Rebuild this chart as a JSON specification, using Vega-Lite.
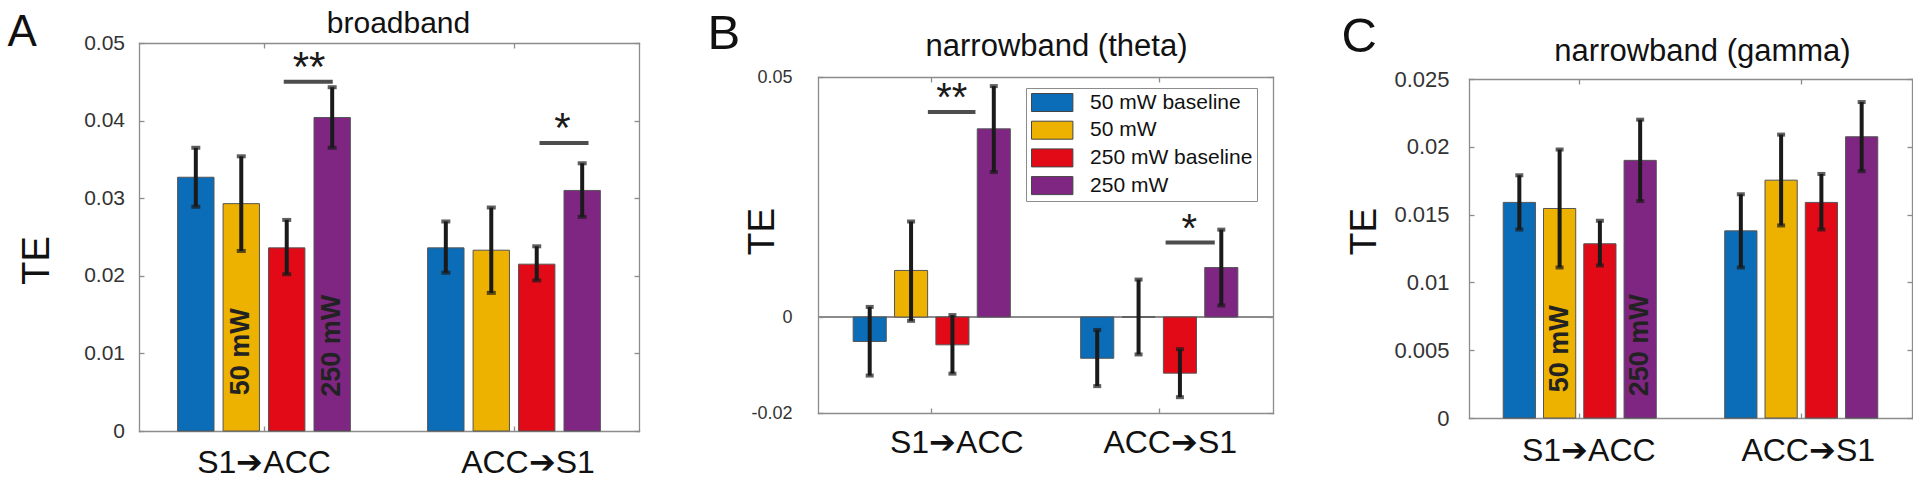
{
  "$schema": "https://vega.github.io/schema/vega-lite/v6.json",
  "background": "white",
  "padding": {"left": 7, "top": 8, "right": 0, "bottom": 0},
  "spacing": 67,
  "resolve": {"scale": {"color": "independent", "xOffset": "independent", "x": "independent", "y": "independent"}, "legend": {"color": "independent"}},
  "config": {
    "font": "Liberation Sans",
    "view": {"stroke": null},
    "axis": {"domain": true, "domainColor": "#8c8c8c", "domainWidth": 1.3, "domainCap": "square", "grid": false, "ticks": true, "tickSize": -5, "tickColor": "#8c8c8c", "tickWidth": 1.3, "labelFont": "Liberation Sans", "titleFont": "Liberation Sans", "titleFontWeight": "normal", "labelColor": "#333333", "titleColor": "#111111", "labelFlush": false, "labelOverlap": false},
    "text": {"font": "Liberation Sans"}
  },
  "datasets": {
    "A": [
      {"dir": "S1➔ACC", "cond": "50 mW baseline", "te": 0.0327, "lo": 0.0289, "hi": 0.0365},
      {"dir": "S1➔ACC", "cond": "50 mW", "te": 0.0293, "lo": 0.0232, "hi": 0.0354},
      {"dir": "S1➔ACC", "cond": "250 mW baseline", "te": 0.0236, "lo": 0.0202, "hi": 0.0272},
      {"dir": "S1➔ACC", "cond": "250 mW", "te": 0.0404, "lo": 0.0365, "hi": 0.0443},
      {"dir": "ACC➔S1", "cond": "50 mW baseline", "te": 0.0236, "lo": 0.0204, "hi": 0.0270},
      {"dir": "ACC➔S1", "cond": "50 mW", "te": 0.0233, "lo": 0.0178, "hi": 0.0288},
      {"dir": "ACC➔S1", "cond": "250 mW baseline", "te": 0.0215, "lo": 0.0194, "hi": 0.0238},
      {"dir": "ACC➔S1", "cond": "250 mW", "te": 0.0310, "lo": 0.0276, "hi": 0.0345}
    ],
    "A_sig": [
      {"dir": "S1➔ACC", "stars": "**", "y": 0.0450},
      {"dir": "ACC➔S1", "stars": "*", "y": 0.0371}
    ],
    "A_lab": [
      {"dir": "S1➔ACC", "cond": "50 mW", "label": "50 mW", "y": 0.0046},
      {"dir": "S1➔ACC", "cond": "250 mW", "label": "250 mW", "y": 0.0044}
    ],
    "B": [
      {"dir": "S1➔ACC", "cond": "50 mW baseline", "te": -0.0051, "lo": -0.0122, "hi": 0.0021},
      {"dir": "S1➔ACC", "cond": "50 mW", "te": 0.0097, "lo": -0.0008, "hi": 0.0199},
      {"dir": "S1➔ACC", "cond": "250 mW baseline", "te": -0.0058, "lo": -0.0118, "hi": 0.0004},
      {"dir": "S1➔ACC", "cond": "250 mW", "te": 0.0392, "lo": 0.0302, "hi": 0.0481},
      {"dir": "ACC➔S1", "cond": "50 mW baseline", "te": -0.0086, "lo": -0.0144, "hi": -0.0027},
      {"dir": "ACC➔S1", "cond": "50 mW", "te": 0.0, "lo": -0.0078, "hi": 0.0078},
      {"dir": "ACC➔S1", "cond": "250 mW baseline", "te": -0.0117, "lo": -0.0167, "hi": -0.0067},
      {"dir": "ACC➔S1", "cond": "250 mW", "te": 0.0103, "lo": 0.0024, "hi": 0.0182}
    ],
    "B_sig": [
      {"dir": "S1➔ACC", "stars": "**", "y": 0.0427},
      {"dir": "ACC➔S1", "stars": "*", "y": 0.0155}
    ],
    "C": [
      {"dir": "S1➔ACC", "cond": "50 mW baseline", "te": 0.0159, "lo": 0.0139, "hi": 0.0179},
      {"dir": "S1➔ACC", "cond": "50 mW", "te": 0.01545, "lo": 0.0111, "hi": 0.0198},
      {"dir": "S1➔ACC", "cond": "250 mW baseline", "te": 0.01285, "lo": 0.01125, "hi": 0.01454},
      {"dir": "S1➔ACC", "cond": "250 mW", "te": 0.0190, "lo": 0.0160, "hi": 0.0220},
      {"dir": "ACC➔S1", "cond": "50 mW baseline", "te": 0.0138, "lo": 0.0111, "hi": 0.0165},
      {"dir": "ACC➔S1", "cond": "50 mW", "te": 0.01754, "lo": 0.0142, "hi": 0.0209},
      {"dir": "ACC➔S1", "cond": "250 mW baseline", "te": 0.0159, "lo": 0.0139, "hi": 0.0180},
      {"dir": "ACC➔S1", "cond": "250 mW", "te": 0.02074, "lo": 0.0182, "hi": 0.0233}
    ],
    "C_lab": [
      {"dir": "S1➔ACC", "cond": "50 mW", "label": "50 mW", "y": 0.0019},
      {"dir": "S1➔ACC", "cond": "250 mW", "label": "250 mW", "y": 0.0016}
    ]
  },
  "hconcat": [
    {
      "width": 500, "height": 388,
      "data": {"name": "A"},
      "resolve": {"axis": {"x": "independent", "y": "independent"}},
      "layer": [
        {
          "mark": {"type": "bar", "stroke": "#555555", "strokeWidth": 1},
          "encoding": {
            "x": {"field": "dir", "type": "nominal", "scale": {"domain": ["S1➔ACC", "ACC➔S1"], "paddingInner": 0, "paddingOuter": 0},
                  "axis": {"orient": "bottom", "title": null, "labelAngle": 0, "labelFontSize": 32, "labelColor": "#111111", "labelPadding": 21.6, "bandPosition": 0.5,
                           "labelOffset": {"condition": {"test": "datum.value == 'ACC➔S1'", "value": 14}, "value": 0}}},
            "xOffset": {"field": "cond", "type": "nominal", "scale": {"domain": ["50 mW baseline", "50 mW", "250 mW baseline", "250 mW"], "paddingInner": 0.2, "paddingOuter": 0.85}},
            "y": {"field": "te", "type": "quantitative", "scale": {"domain": [0, 0.05], "nice": false, "zero": false},
                  "axis": {"orient": "left", "values": [0, 0.01, 0.02, 0.03, 0.04, 0.05], "format": "~g", "labelFontSize": 21, "labelPadding": 19.5, "title": "TE", "titleFontSize": 38, "titleAngle": 270, "titleX": -102, "titleY": 217, "titleAlign": "center", "titleBaseline": "middle"}},
            "color": {"field": "cond", "type": "nominal", "scale": {"domain": ["50 mW baseline", "50 mW", "250 mW baseline", "250 mW"], "range": ["#0b6cb8", "#edb100", "#e20a17", "#7f2682"]}, "legend": null}
          }
        },
        {
          "mark": {"type": "rule", "color": "#1a1a1a", "strokeWidth": 4},
          "encoding": {
            "x": {"field": "dir", "type": "nominal", "axis": {"orient": "top", "labels": false, "bandPosition": 0.5, "title": "broadband", "titleFontSize": 30, "titleX": 259, "titleY": -11, "titleAlign": "center", "titleBaseline": "alphabetic"}},
            "xOffset": {"field": "cond", "type": "nominal"},
            "y": {"field": "lo", "type": "quantitative", "axis": {"orient": "right", "labels": false, "values": [0, 0.01, 0.02, 0.03, 0.04, 0.05], "title": "A", "titleFontSize": 44, "titleAngle": 0, "titleX": -632, "titleY": 2, "titleAlign": "left", "titleBaseline": "alphabetic"}},
            "y2": {"field": "hi"}
          }
        },
        {
          "mark": {"type": "tick", "orient": "horizontal", "color": "#1a1a1a", "size": 9, "thickness": 4},
          "encoding": {
            "x": {"field": "dir", "type": "nominal", "axis": null},
            "xOffset": {"field": "cond", "type": "nominal"},
            "y": {"field": "lo", "type": "quantitative", "axis": null}
          }
        },
        {
          "mark": {"type": "tick", "orient": "horizontal", "color": "#1a1a1a", "size": 9, "thickness": 4},
          "encoding": {
            "x": {"field": "dir", "type": "nominal", "axis": null},
            "xOffset": {"field": "cond", "type": "nominal"},
            "y": {"field": "hi", "type": "quantitative", "axis": null}
          }
        },
        {
          "data": {"name": "A_sig"},
          "transform": [{"filter": "datum.dir == 'S1➔ACC'"}],
          "mark": {"type": "rule", "color": "#4d4d4d", "strokeWidth": 4},
          "encoding": {
            "x": {"field": "dir", "type": "nominal", "bandPosition": 0.579, "axis": null},
            "x2": {"field": "dir", "bandPosition": 0.775},
            "y": {"field": "y", "type": "quantitative", "axis": null}
          }
        },
        {
          "data": {"name": "A_sig"},
          "transform": [{"filter": "datum.dir == 'ACC➔S1'"}],
          "mark": {"type": "rule", "color": "#4d4d4d", "strokeWidth": 4},
          "encoding": {
            "x": {"field": "dir", "type": "nominal", "bandPosition": 0.602, "axis": null},
            "x2": {"field": "dir", "bandPosition": 0.798},
            "y": {"field": "y", "type": "quantitative", "axis": null}
          }
        },
        {
          "data": {"name": "A_sig"},
          "transform": [{"filter": "datum.dir == 'S1➔ACC'"}],
          "mark": {"type": "text", "fontSize": 42, "baseline": "alphabetic", "align": "center", "color": "#1a1a1a", "dy": -1},
          "encoding": {
            "x": {"field": "dir", "type": "nominal", "bandPosition": 0.68, "axis": null},
            "y": {"field": "y", "type": "quantitative", "axis": null},
            "text": {"field": "stars"}
          }
        },
        {
          "data": {"name": "A_sig"},
          "transform": [{"filter": "datum.dir == 'ACC➔S1'"}],
          "mark": {"type": "text", "fontSize": 42, "baseline": "alphabetic", "align": "center", "color": "#1a1a1a", "dy": -1},
          "encoding": {
            "x": {"field": "dir", "type": "nominal", "bandPosition": 0.694, "axis": null},
            "y": {"field": "y", "type": "quantitative", "axis": null},
            "text": {"field": "stars"}
          }
        },
        {
          "data": {"name": "A_lab"},
          "mark": {"type": "text", "angle": 270, "align": "left", "baseline": "middle", "fontSize": 27, "fontWeight": "bold", "color": "#222222"},
          "encoding": {
            "x": {"field": "dir", "type": "nominal", "axis": null},
            "xOffset": {"field": "cond", "type": "nominal"},
            "y": {"field": "y", "type": "quantitative", "axis": null},
            "text": {"field": "label"}
          }
        }
      ]
    },
    {
      "width": 455, "height": 388,
      "data": {"name": "B"},
      "resolve": {"axis": {"x": "independent", "y": "independent"}},
      "layer": [
        {
          "mark": {"type": "rule", "color": "#8c8c8c", "strokeWidth": 1.3},
          "encoding": {"y": {"datum": 0, "type": "quantitative", "axis": null}}
        },
        {
          "mark": {"type": "bar", "stroke": "#555555", "strokeWidth": 1},
          "encoding": {
            "x": {"field": "dir", "type": "nominal", "scale": {"domain": ["S1➔ACC", "ACC➔S1"], "paddingInner": 0, "paddingOuter": 0},
                  "axis": {"orient": "bottom", "offset": -18, "title": null, "labelAngle": 0, "labelFontSize": 32, "labelColor": "#111111", "labelPadding": 19.6, "bandPosition": 0.5,
                           "labelOffset": {"condition": {"test": "datum.value == 'ACC➔S1'", "value": 11}, "value": 25}}},
            "xOffset": {"field": "cond", "type": "nominal", "scale": {"domain": ["50 mW baseline", "50 mW", "250 mW baseline", "250 mW"], "paddingInner": 0.2, "paddingOuter": 0.85}},
            "y": {"field": "te", "type": "quantitative", "scale": {"domain": [-0.02, 0.05], "range": [370, 34], "nice": false, "zero": false},
                  "axis": {"orient": "left", "values": [-0.02, 0, 0.05], "format": "~g", "labelExpr": "replace(datum.label, '−', '-')", "labelFontSize": 18, "labelPadding": 31, "title": "TE", "titleFontSize": 37, "titleAngle": 270, "titleX": -56, "titleY": 188, "titleAlign": "center", "titleBaseline": "middle"}},
            "color": {"field": "cond", "type": "nominal", "scale": {"domain": ["50 mW baseline", "50 mW", "250 mW baseline", "250 mW"], "range": ["#0b6cb8", "#edb100", "#e20a17", "#7f2682"]},
                      "legend": {"orient": "none", "legendX": 208, "legendY": 45, "title": null, "symbolType": "M-2.3,-1H2.3V1H-2.3Z", "symbolSize": 324, "symbolOffset": 11.7, "labelOffset": 27.4, "labelFontSize": 21, "labelFont": "Liberation Sans", "labelColor": "#111111", "labelLimit": 400, "rowPadding": 4.7, "padding": 4, "strokeColor": "#8c8c8c", "fillColor": "white", "symbolStrokeColor": "#444444", "symbolStrokeWidth": 1, "symbolOpacity": 1, "labelExpr": "datum.label + '\u00a0\u00a0\u00a0'"}}
          }
        },
        {
          "mark": {"type": "rule", "color": "#1a1a1a", "strokeWidth": 4},
          "encoding": {
            "x": {"field": "dir", "type": "nominal", "axis": {"orient": "top", "offset": -34, "labels": false, "bandPosition": 0.5, "title": "narrowband (theta)", "titleFontSize": 31, "titleX": 238, "titleY": -22, "titleAlign": "center", "titleBaseline": "alphabetic"}},
            "xOffset": {"field": "cond", "type": "nominal"},
            "y": {"field": "lo", "type": "quantitative", "axis": {"orient": "right", "labels": false, "values": [-0.02, 0, 0.05], "title": "B", "titleFontSize": 49, "titleAngle": 0, "titleX": -566, "titleY": 5, "titleAlign": "left", "titleBaseline": "alphabetic"}},
            "y2": {"field": "hi"}
          }
        },
        {
          "mark": {"type": "tick", "orient": "horizontal", "color": "#1a1a1a", "size": 8, "thickness": 4},
          "encoding": {
            "x": {"field": "dir", "type": "nominal", "axis": null},
            "xOffset": {"field": "cond", "type": "nominal"},
            "y": {"field": "lo", "type": "quantitative", "axis": null}
          }
        },
        {
          "mark": {"type": "tick", "orient": "horizontal", "color": "#1a1a1a", "size": 8, "thickness": 4},
          "encoding": {
            "x": {"field": "dir", "type": "nominal", "axis": null},
            "xOffset": {"field": "cond", "type": "nominal"},
            "y": {"field": "hi", "type": "quantitative", "axis": null}
          }
        },
        {
          "data": {"name": "B_sig"},
          "transform": [{"filter": "datum.dir == 'S1➔ACC'"}],
          "mark": {"type": "rule", "color": "#4d4d4d", "strokeWidth": 4},
          "encoding": {
            "x": {"field": "dir", "type": "nominal", "bandPosition": 0.483, "axis": null},
            "x2": {"field": "dir", "bandPosition": 0.692},
            "y": {"field": "y", "type": "quantitative", "axis": null}
          }
        },
        {
          "data": {"name": "B_sig"},
          "transform": [{"filter": "datum.dir == 'ACC➔S1'"}],
          "mark": {"type": "rule", "color": "#4d4d4d", "strokeWidth": 4},
          "encoding": {
            "x": {"field": "dir", "type": "nominal", "bandPosition": 0.528, "axis": null},
            "x2": {"field": "dir", "bandPosition": 0.744},
            "y": {"field": "y", "type": "quantitative", "axis": null}
          }
        },
        {
          "data": {"name": "B_sig"},
          "transform": [{"filter": "datum.dir == 'S1➔ACC'"}],
          "mark": {"type": "text", "fontSize": 40, "baseline": "alphabetic", "align": "center", "color": "#1a1a1a", "dy": -1},
          "encoding": {
            "x": {"field": "dir", "type": "nominal", "bandPosition": 0.588, "axis": null},
            "y": {"field": "y", "type": "quantitative", "axis": null},
            "text": {"field": "stars"}
          }
        },
        {
          "data": {"name": "B_sig"},
          "transform": [{"filter": "datum.dir == 'ACC➔S1'"}],
          "mark": {"type": "text", "fontSize": 40, "baseline": "alphabetic", "align": "center", "color": "#1a1a1a", "dy": -1},
          "encoding": {
            "x": {"field": "dir", "type": "nominal", "bandPosition": 0.632, "axis": null},
            "y": {"field": "y", "type": "quantitative", "axis": null},
            "text": {"field": "stars"}
          }
        }
      ]
    },
    {
      "width": 443, "height": 388,
      "data": {"name": "C"},
      "resolve": {"axis": {"x": "independent", "y": "independent"}},
      "layer": [
        {
          "mark": {"type": "bar", "stroke": "#555555", "strokeWidth": 1},
          "encoding": {
            "x": {"field": "dir", "type": "nominal", "scale": {"domain": ["S1➔ACC", "ACC➔S1"], "paddingInner": 0, "paddingOuter": 0},
                  "axis": {"orient": "bottom", "offset": -13, "title": null, "labelAngle": 0, "labelFontSize": 32, "labelColor": "#111111", "labelPadding": 22.6, "bandPosition": 0.5,
                           "labelOffset": {"condition": {"test": "datum.value == 'ACC➔S1'", "value": 7}, "value": 9}}},
            "xOffset": {"field": "cond", "type": "nominal", "scale": {"domain": ["50 mW baseline", "50 mW", "250 mW baseline", "250 mW"], "paddingInner": 0.2, "paddingOuter": 0.85}},
            "y": {"field": "te", "type": "quantitative", "scale": {"domain": [0, 0.025], "range": [375, 36], "nice": false, "zero": false},
                  "axis": {"orient": "left", "values": [0, 0.005, 0.01, 0.015, 0.02, 0.025], "format": "~g", "labelFontSize": 22, "labelPadding": 25, "title": "TE", "titleFontSize": 37, "titleAngle": 270, "titleX": -105, "titleY": 188, "titleAlign": "center", "titleBaseline": "middle"}},
            "color": {"field": "cond", "type": "nominal", "scale": {"domain": ["50 mW baseline", "50 mW", "250 mW baseline", "250 mW"], "range": ["#0b6cb8", "#edb100", "#e20a17", "#7f2682"]}, "legend": null}
          }
        },
        {
          "mark": {"type": "rule", "color": "#1a1a1a", "strokeWidth": 4},
          "encoding": {
            "x": {"field": "dir", "type": "nominal", "axis": {"orient": "top", "offset": -36, "labels": false, "bandPosition": 0.5, "title": "narrowband (gamma)", "titleFontSize": 31, "titleX": 233, "titleY": -19, "titleAlign": "center", "titleBaseline": "alphabetic"}},
            "xOffset": {"field": "cond", "type": "nominal"},
            "y": {"field": "lo", "type": "quantitative", "axis": {"orient": "right", "labels": false, "values": [0, 0.005, 0.01, 0.015, 0.02, 0.025], "title": "C", "titleFontSize": 49, "titleAngle": 0, "titleX": -571, "titleY": 8, "titleAlign": "left", "titleBaseline": "alphabetic"}},
            "y2": {"field": "hi"}
          }
        },
        {
          "mark": {"type": "tick", "orient": "horizontal", "color": "#1a1a1a", "size": 8, "thickness": 4},
          "encoding": {
            "x": {"field": "dir", "type": "nominal", "axis": null},
            "xOffset": {"field": "cond", "type": "nominal"},
            "y": {"field": "lo", "type": "quantitative", "axis": null}
          }
        },
        {
          "mark": {"type": "tick", "orient": "horizontal", "color": "#1a1a1a", "size": 8, "thickness": 4},
          "encoding": {
            "x": {"field": "dir", "type": "nominal", "axis": null},
            "xOffset": {"field": "cond", "type": "nominal"},
            "y": {"field": "hi", "type": "quantitative", "axis": null}
          }
        },
        {
          "data": {"name": "C_lab"},
          "mark": {"type": "text", "angle": 270, "align": "left", "baseline": "middle", "fontSize": 27, "fontWeight": "bold", "color": "#222222"},
          "encoding": {
            "x": {"field": "dir", "type": "nominal", "axis": null},
            "xOffset": {"field": "cond", "type": "nominal"},
            "y": {"field": "y", "type": "quantitative", "axis": null},
            "text": {"field": "label"}
          }
        }
      ]
    }
  ]
}
